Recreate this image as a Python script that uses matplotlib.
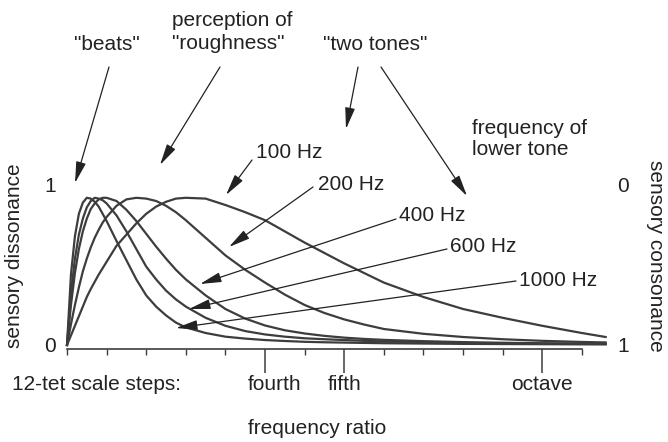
import numpy as np
import matplotlib
matplotlib.use('Agg')
import matplotlib.pyplot as plt
from matplotlib.transforms import ScaledTranslation

# interval between the two tones, in 12-tet semitones
semitones = [0, 0.1, 0.2, 0.3, 0.4, 0.5, 0.6, 0.7, 0.8, 0.9, 1.0, 1.25, 1.5, 1.75,
             2, 2.25, 2.5, 2.75, 3, 3.5, 4, 4.5, 5, 5.5, 6, 6.5, 7, 7.5, 8,
             9, 10, 11, 12, 13, 13.6]

# sensory dissonance, one list per lower-tone frequency
diss_100 = [0, 0.06, 0.12, 0.18, 0.24, 0.30, 0.35, 0.395, 0.44, 0.48, 0.52, 0.62, 0.69, 0.76,
            0.82, 0.865, 0.895, 0.915, 0.92, 0.915, 0.875, 0.83, 0.78, 0.71, 0.64, 0.575, 0.51, 0.45, 0.39,
            0.30, 0.225, 0.17, 0.12, 0.075, 0.05]
diss_200 = [0, 0.13, 0.25, 0.36, 0.46, 0.54, 0.61, 0.67, 0.72, 0.765, 0.80, 0.87, 0.91, 0.92,
            0.915, 0.90, 0.87, 0.83, 0.78, 0.67, 0.56, 0.47, 0.39, 0.315, 0.25, 0.20, 0.16, 0.128, 0.10,
            0.07, 0.05, 0.036, 0.026, 0.019, 0.016]
diss_400 = [0, 0.25, 0.45, 0.60, 0.71, 0.79, 0.85, 0.885, 0.91, 0.92, 0.92, 0.90, 0.845, 0.775,
            0.695, 0.615, 0.54, 0.47, 0.41, 0.31, 0.225, 0.165, 0.122, 0.092, 0.072, 0.057, 0.046, 0.038, 0.032,
            0.024, 0.018, 0.014, 0.011, 0.009, 0.008]
diss_600 = [0, 0.32, 0.54, 0.69, 0.79, 0.86, 0.90, 0.92, 0.915, 0.905, 0.885, 0.81, 0.71, 0.60,
            0.49, 0.41, 0.34, 0.285, 0.24, 0.17, 0.12, 0.087, 0.066, 0.052, 0.042, 0.036, 0.031, 0.026, 0.022,
            0.017, 0.013, 0.010, 0.008, 0.007, 0.006]
diss_1000 = [0, 0.44, 0.68, 0.82, 0.89, 0.92, 0.915, 0.895, 0.865, 0.82, 0.775, 0.65, 0.53, 0.41,
             0.31, 0.24, 0.185, 0.14, 0.11, 0.075, 0.052, 0.04, 0.031, 0.025, 0.02, 0.017, 0.015, 0.013, 0.011,
             0.009, 0.007, 0.006, 0.005, 0.004, 0.004]

curve_labels = ['100 Hz', '200 Hz', '400 Hz', '600 Hz', '1000 Hz']
scale_steps = list(range(14))
interval_ticks = [5, 7, 12]
interval_names = ['fourth', 'fifth', 'octave']

W, H = 668, 442
plt.rcParams['font.family'] = ['Liberation Sans', 'DejaVu Sans']
plt.rcParams['font.size'] = 15
ink = '#222222'
line_col = '#3d3d3d'


def fxy(x, y):
    # pixel position (from top-left) -> figure fraction
    return (x / W, 1 - y / H)


fig = plt.figure(figsize=(W / 100, H / 100), dpi=100)
ax = fig.add_axes([67 / W, (H - 349) / H, 543 / W, 164 / H])

for vals in [diss_100, diss_200, diss_400, diss_600, diss_1000]:
    ax.plot(semitones, vals, color=line_col, lw=1.6, clip_on=False)

ax.set_xlim(0, 13.71)
ax.set_ylim(-0.025, 1.0)
for side in ['top', 'right', 'left']:
    ax.spines[side].set_visible(False)
ax.spines['bottom'].set_bounds(0, 13)
ax.spines['bottom'].set_color(line_col)
ax.spines['bottom'].set_linewidth(1.2)

ax.set_xticks(interval_ticks)
ax.set_xticklabels(interval_names)
ax.set_xticks(scale_steps, minor=True)
ax.tick_params(axis='x', which='major', length=17, width=1.1, color=line_col, pad=2, labelcolor=ink)
ax.tick_params(axis='x', which='minor', length=4.5, width=1.0, color=line_col)
# "fourth" sits a little right of its tick in the original
lab4 = ax.get_xticklabels()[0]
lab4.set_transform(lab4.get_transform() + ScaledTranslation(10 / 100, 0, fig.dpi_scale_trans))

ax.set_yticks([0, 1])
ax.set_yticklabels(['0', '1'])
ax.tick_params(axis='y', length=0, pad=8, labelcolor=ink)

ax2 = ax.twinx()
ax2.set_ylim(1.025, 0)
ax2.set_yticks([0, 1])
ax2.set_yticklabels(['0', '1'])
ax2.tick_params(axis='y', length=0, pad=5, labelcolor=ink)
for side in ['top', 'right', 'left', 'bottom']:
    ax2.spines[side].set_visible(False)

# axis texts
fig.text(*fxy(12, 385), '12-tet scale steps:', ha='left', va='center', color=ink)
fig.text(*fxy(317, 428), 'frequency ratio', ha='center', va='center', color=ink)
fig.text(*fxy(15, 256), 'sensory dissonance', rotation=90, ha='center', va='center', color=ink)
fig.text(*fxy(655, 256), 'sensory consonance', rotation=270, ha='center', va='center', color=ink)

# labels at the top
fig.text(*fxy(107, 45), '"beats"', ha='center', va='center', color=ink)
fig.text(*fxy(172, 32), 'perception of\n"roughness"', ha='left', va='center', color=ink,
         linespacing=1.3)
fig.text(*fxy(472, 139), 'frequency of\nlower tone', ha='left', va='center', color=ink,
         linespacing=1.15)
fig.text(*fxy(375, 45), '"two tones"', ha='center', va='center', color=ink)

label_pos = [(256, 152), (318, 184), (399, 215), (450, 247), (519, 280)]
for lab, (x, y) in zip(curve_labels, label_pos):
    fig.text(*fxy(x, y), lab, ha='left', va='center', color=ink)

arrows = [
    ((109, 67), (75, 183)),
    ((220, 67), (160, 165)),
    ((358, 67), (346, 129)),
    ((381, 67), (467, 196)),
    ((252, 160), (226, 195)),
    ((313, 187), (229, 247)),
    ((396, 219), (200, 284)),
    ((447, 249), (189, 309)),
    ((516, 281), (176, 328)),
]
for tail, tip in arrows:
    ax.annotate('', xy=fxy(*tip), xytext=fxy(*tail),
                xycoords='figure fraction', textcoords='figure fraction',
                arrowprops=dict(arrowstyle='-|>,head_length=1.3,head_width=0.3',
                                color=ink, lw=0.9, shrinkA=0, shrinkB=0,
                                mutation_scale=10),
                annotation_clip=False)

fig.savefig('out.png', dpi=100)
